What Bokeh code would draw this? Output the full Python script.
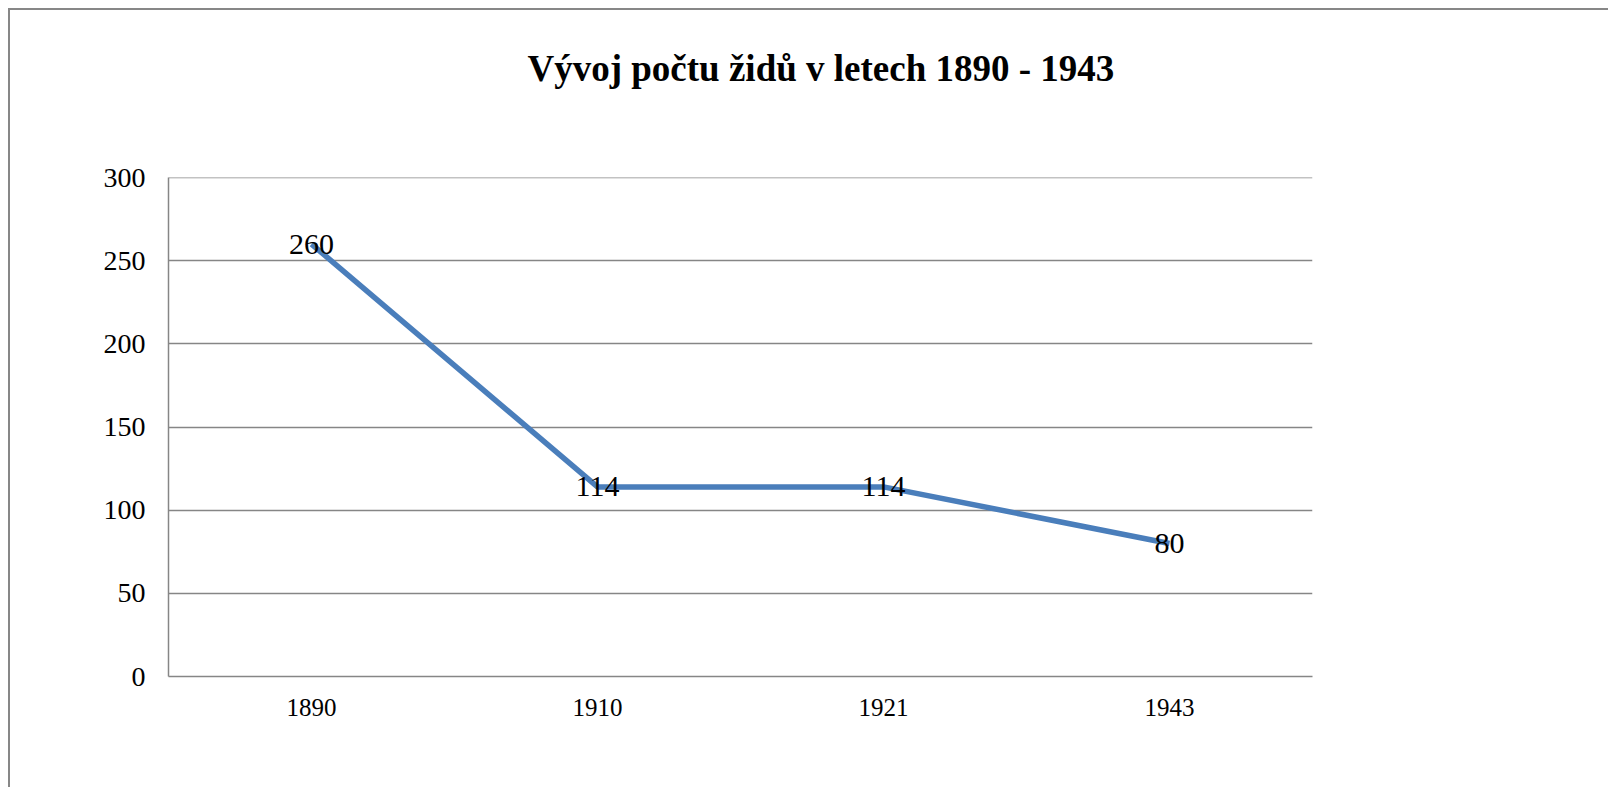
from bokeh.plotting import figure
from bokeh.models import FactorRange, Range1d, FixedTicker, ColumnDataSource, Span
from bokeh.embed import file_html
from bokeh.resources import INLINE
from bokeh.core.properties import value

title_text = "Vývoj počtu židů v letech 1890 - 1943"
years = ["1890", "1910", "1921", "1943"]
counts = [260, 114, 114, 80]
y_ticks = [0, 50, 100, 150, 200, 250, 300]

FONT = "Liberation Serif"
GRAY = "#868686"

src = ColumnDataSource(dict(x=years, y=counts, lab=[str(c) for c in counts]))

p = figure(
    width=1600, height=779,
    x_range=FactorRange(factors=years, range_padding=0),
    y_range=Range1d(0, 300),
    output_backend="svg", toolbar_location=None,
    min_border_left=158, min_border_right=298,
    min_border_top=167, min_border_bottom=113,
    styles={"margin-left": "8px", "margin-top": "8px",
            "border-left": "2px solid #878787", "border-top": "2px solid #878787"},
)
p.outline_line_color = None
p.background_fill_color = "white"
p.border_fill_color = "white"

p.title.text = title_text + "\n \n "
p.title.align = "left"
p.title.vertical_align = "top"
p.title.offset = 359
p.title.standoff = 10
p.title.text_font = FONT
p.title.text_font_style = "bold"
p.title.text_font_size = "37px"
p.title.text_color = "black"

p.xgrid.grid_line_color = None
p.ygrid.ticker = FixedTicker(ticks=y_ticks)
p.ygrid.grid_line_color = GRAY
p.ygrid.grid_line_width = 1.5
p.add_layout(Span(location=y_ticks[-1], dimension="width", line_color=GRAY, line_width=1.5))

p.yaxis.ticker = FixedTicker(ticks=y_ticks)
p.yaxis.axis_line_color = GRAY
p.yaxis.axis_line_width = 1.5
p.yaxis.major_tick_line_color = None
p.yaxis.minor_tick_line_color = None
p.yaxis.major_label_standoff = 17
p.yaxis.major_label_text_font = FONT
p.yaxis.major_label_text_font_size = "28px"
p.yaxis.major_label_text_color = "black"

p.xaxis.axis_line_color = GRAY
p.xaxis.axis_line_width = 1.5
p.xaxis.major_tick_line_color = None
p.xaxis.minor_tick_line_color = None
p.xaxis.major_label_standoff = 16
p.xaxis.major_label_text_font = FONT
p.xaxis.major_label_text_font_size = "25px"
p.xaxis.major_label_text_color = "black"

p.line("x", "y", source=src, line_color="#4A7EBB", line_width=5.5)
p.text("x", "y", text="lab", source=src, text_align="center", text_baseline="middle",
       text_font=value("Times New Roman"), text_font_size="30px", text_color="black")

open("out.html", "w").write(file_html(p, INLINE))
